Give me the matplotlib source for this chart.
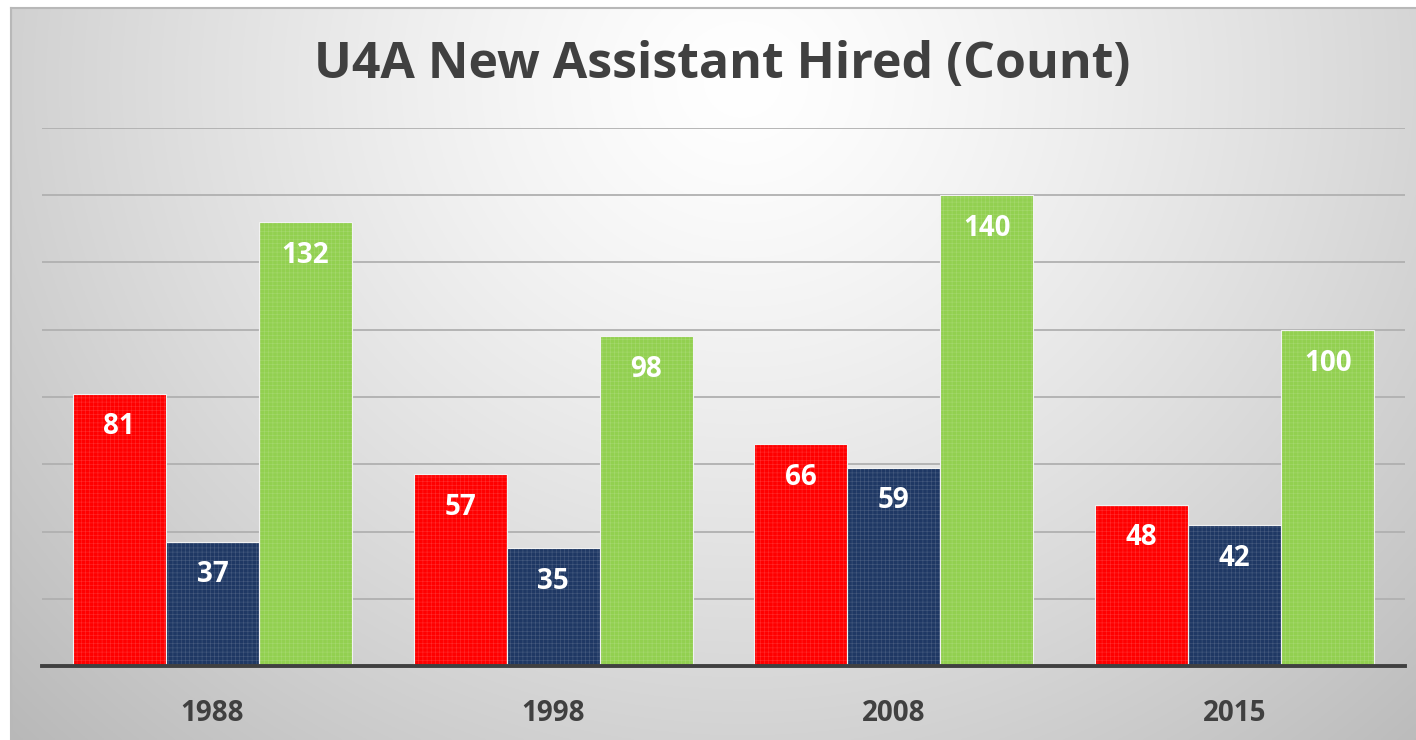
import numpy as np
import matplotlib.pyplot as plt

# data
years = ['1988', '1998', '2008', '2015']
red_vals = [81, 57, 66, 48]
blue_vals = [37, 35, 59, 42]
green_vals = [132, 98, 140, 100]
colors = ['#FF0000', '#1F3864', '#92D050']

plt.rcParams['font.family'] = ['Open Sans', 'DejaVu Sans']

fig = plt.figure(figsize=(14.16, 7.40), dpi=100)

# background with radial gradient, framed
bg = fig.add_axes([11 / 1416, 0, 1 - 11 / 1416, 1 - 8 / 740])
h, w = 400, 800
yy, xx = np.mgrid[0:h, 0:w]
cx, cy = w * 0.52, h * 0.1
r = np.sqrt(((xx - cx) / (w * 0.65)) ** 2 + ((yy - cy) / (h * 1.15)) ** 2)
shade = 1.0 - 0.24 * np.clip(r, 0, 1.2) ** 1.3
img = np.dstack([shade, shade, shade])
bg.imshow(img, aspect='auto', extent=[0, 1, 0, 1], origin='upper')
bg.set_xlim(0, 1)
bg.set_ylim(0, 1)
bg.set_xticks([])
bg.set_yticks([])
for s in ['right', 'bottom']:
    bg.spines[s].set_visible(False)
for s in ['left', 'top']:
    bg.spines[s].set_color('#b8b8b8')
    bg.spines[s].set_linewidth(1.5)

ax = fig.add_axes([42 / 1416, 74 / 740, 1363 / 1416, 538 / 740])
ax.patch.set_alpha(0)

x = np.arange(len(years))
bw = 0.273
series = [red_vals, blue_vals, green_vals]
plt.rcParams['hatch.linewidth'] = 0.4
for i, vals in enumerate(series):
    pos = x + (i - 1) * bw
    ax.bar(pos, vals, width=bw, color=colors[i], edgecolor='#f2f2f2', linewidth=0.8, zorder=3)
    # subtle texture
    ax.bar(pos, vals, width=bw, fill=False, hatch='++++', edgecolor=(1, 1, 1, 0.18),
           linewidth=0, zorder=4)
    for px, v in zip(pos, vals):
        ax.annotate(str(v), (px, v), xytext=(0, -24), textcoords='offset points',
                    ha='center', va='center', color='white', fontsize=20,
                    fontweight='bold', zorder=5)

ax.set_xlim(-0.5, len(years) - 0.5)
ax.set_ylim(0, 160)
ax.set_yticks(np.arange(0, 161, 20))
ax.yaxis.grid(True, color='#b0b0b0', linewidth=1.3, zorder=0)
ax.set_axisbelow(True)
ax.tick_params(axis='y', left=False, labelleft=False)
ax.set_xticks(x)
ax.set_xticklabels(years, fontsize=20, fontweight='bold', color='#404040')
ax.tick_params(axis='x', length=0, pad=24)
for s in ['left', 'right', 'top']:
    ax.spines[s].set_visible(False)
ax.spines['bottom'].set_color('#404040')
ax.spines['bottom'].set_linewidth(2.8)
ax.spines['bottom'].set_zorder(6)

fig.text(0.51, 1 - 65 / 740, 'U4A New Assistant Hired (Count)', ha='center', va='center',
         fontsize=36, fontweight='bold', color='#404040')

fig.savefig('out.png', dpi=100)
